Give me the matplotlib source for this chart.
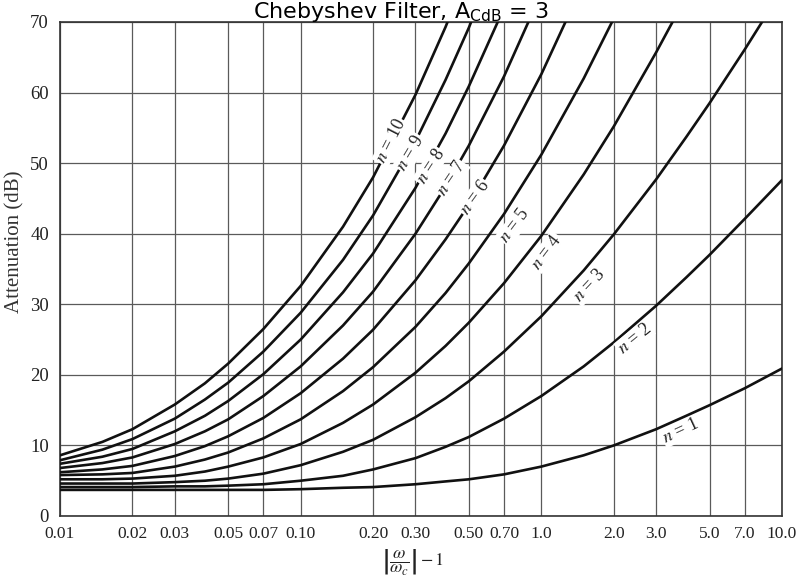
import matplotlib
matplotlib.use("Agg")
import matplotlib.pyplot as plt

# ---- data ----
x_vals = [0.01, 0.015, 0.02, 0.03, 0.04, 0.05, 0.07, 0.1, 0.15, 0.2, 0.3, 0.4,
          0.5, 0.7, 1.0, 1.5, 2.0, 3.0, 4.0, 5.0, 7.0, 10.0]

att_n1 = [3.7, 3.7, 3.7, 3.7, 3.7, 3.7, 3.7, 3.8, 4.0, 4.1, 4.5, 4.9, 5.2, 5.9, 7.0, 8.6, 10.0, 12.3, 14.2, 15.7, 18.1, 20.9]
att_n2 = [4.1, 4.1, 4.1, 4.2, 4.2, 4.3, 4.5, 5.0, 5.7, 6.6, 8.2, 9.8, 11.2, 13.8, 17.0, 21.2, 24.6, 29.8, 33.8, 37.0, 42.1, 47.6]
att_n3 = [4.6, 4.6, 4.6, 4.8, 5.0, 5.3, 6.0, 7.2, 9.1, 10.8, 14.0, 16.7, 19.1, 23.3, 28.3, 34.8, 39.9, 47.7, 53.7, 58.5, 66.1, 74.5]
att_n4 = [5.2, 5.2, 5.3, 5.7, 6.3, 7.0, 8.3, 10.2, 13.2, 15.8, 20.3, 24.1, 27.4, 33.0, 39.7, 48.4, 55.2, 65.7, 73.6]
att_n5 = [5.8, 5.9, 6.1, 7.0, 8.0, 9.0, 11.0, 13.7, 17.7, 21.1, 26.8, 31.6, 35.8, 42.8, 51.2, 62.0, 70.5]
att_n6 = [6.2, 6.6, 7.1, 8.5, 9.9, 11.3, 13.9, 17.4, 22.3, 26.4, 33.4, 39.2, 44.1, 52.5, 62.6, 75.6]
att_n7 = [6.8, 7.5, 8.3, 10.2, 12.0, 13.7, 17.0, 21.2, 27.0, 31.8, 40.0, 46.7, 52.5, 62.3, 74.1]
att_n8 = [7.4, 8.4, 9.5, 12.0, 14.2, 16.3, 20.1, 25.0, 31.7, 37.2, 46.5, 54.2, 60.9, 72.0]
att_n9 = [7.9, 9.4, 10.9, 13.8, 16.5, 18.9, 23.3, 28.8, 36.3, 42.6, 53.1, 61.8, 69.2, 81.8]
att_n10 = [8.6, 10.5, 12.3, 15.8, 18.8, 21.6, 26.5, 32.6, 41.0, 48.0, 59.7, 69.3, 77.6]

series = [att_n1, att_n2, att_n3, att_n4, att_n5, att_n6, att_n7, att_n8, att_n9, att_n10]

x_ticks = [0.01, 0.02, 0.03, 0.05, 0.07, 0.1, 0.2, 0.3, 0.5, 0.7, 1.0, 2.0, 3.0, 5.0, 7.0, 10.0]
x_ticklabels = ["0.01", "0.02", "0.03", "0.05", "0.07", "0.10", "0.20", "0.30", "0.50",
                "0.70", "1.0", "2.0", "3.0", "5.0", "7.0", "10.0"]
y_ticks = [0, 10, 20, 30, 40, 50, 60, 70]

# curve label positions (x, attenuation) and rotation
label_n = [1, 2, 3, 4, 5, 6, 7, 8, 9, 10]
label_x = [3.80, 2.44, 1.58, 1.05, 0.773, 0.529, 0.424, 0.347, 0.286, 0.237]
label_y = [12.0, 25.1, 32.6, 37.4, 41.1, 45.1, 47.8, 49.5, 51.4, 53.1]
label_rot = [25, 39, 47, 53, 53, 54, 56, 57, 59, 63]

# ---- figure ----
plt.rcParams['font.family'] = ['Liberation Serif', 'DejaVu Serif']
plt.rcParams['mathtext.fontset'] = 'stix'

W, H = 802, 586
fig = plt.figure(figsize=(W / 100, H / 100), dpi=100)
fig.patch.set_facecolor('white')
L, R, T, B = 60, 782, 22, 516
ax = fig.add_axes([L / W, (H - B) / H, (R - L) / W, (B - T) / H])

for vals in series:
    ax.plot(x_vals[:len(vals)], vals, color='#111111', lw=1.9, solid_capstyle='round', zorder=3)

ax.set_xscale('log')
ax.set_xlim(0.01, 10.0)
ax.set_ylim(0, 70)
ax.set_xticks(x_ticks)
ax.set_xticklabels(x_ticklabels)
ax.minorticks_off()
ax.set_yticks(y_ticks)
ax.tick_params(axis='x', length=0, pad=7, labelsize=12.5, colors='#222222')
ax.tick_params(axis='y', length=0, pad=8, labelsize=13.5, colors='#222222')
ax.grid(True, which='major', color='#5a5a5a', lw=0.9, zorder=1)
for s in ax.spines.values():
    s.set_color('#333333')
    s.set_linewidth(1.2)

for n, lx, ly, rot in zip(label_n, label_x, label_y, label_rot):
    ax.text(lx, ly, r"$n$ = %d" % n, fontsize=13, rotation=rot, rotation_mode='anchor',
            ha='center', va='center', color='#222222', zorder=5,
            bbox=dict(boxstyle='square,pad=0.05', fc='white', ec='none'))

fig.text(15 / W, 1 - 242 / H, "Attenuation (dB)", rotation=90, ha='center', va='center',
         fontsize=15, color='#333333')
fig.text(413 / W, 1 - 562 / H, r"$\left|\dfrac{\omega}{\omega_c}\right| - 1$", ha='center',
         va='center', fontsize=13, color='#222222')
fig.text(0.5, 1 - 18 / H, r"Chebyshev Filter, A$_{\mathrm{CdB}}$ = 3", ha='center',
         va='baseline', fontsize=16, family='DejaVu Sans', math_fontfamily='dejavusans',
         color='black')

fig.savefig('out.png', dpi=100, facecolor='white')
